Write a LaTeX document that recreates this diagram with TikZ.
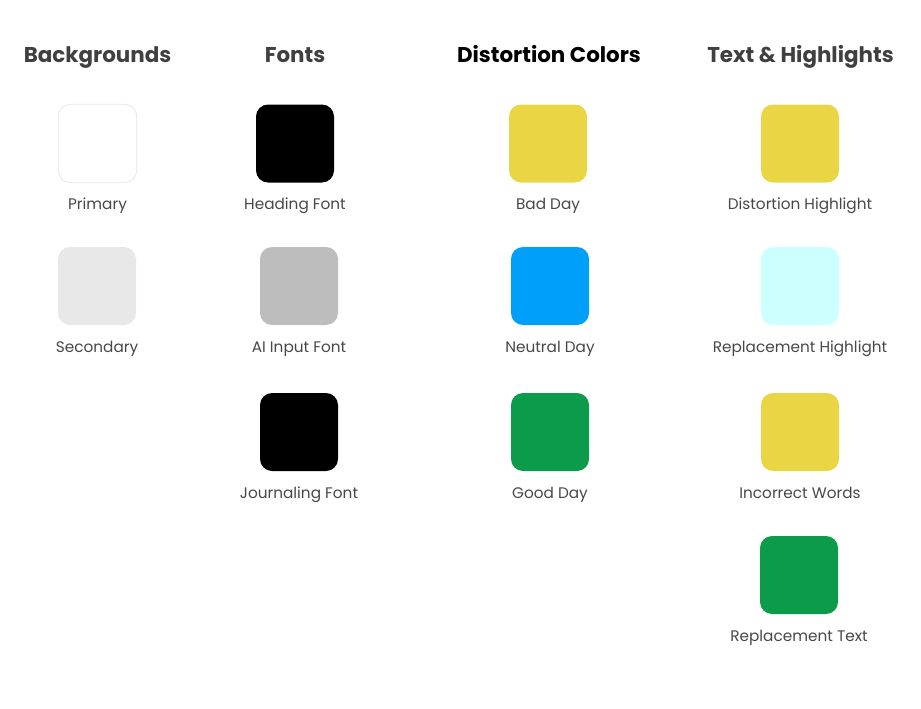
\documentclass[tikz,border=0pt]{standalone}
\usepackage{fontspec}
\setmainfont{Poppins}
\usepackage{xcolor}
\usepackage{tikz}
\usetikzlibrary{positioning}

\definecolor{headgray}{HTML}{404040}
\definecolor{labelgray}{HTML}{474747}
\definecolor{rimgray}{HTML}{E6E6E6}
\definecolor{paper}{HTML}{FFFFFF}
\definecolor{paletint}{HTML}{E8E8E8}
\definecolor{inkblack}{HTML}{000000}
\definecolor{aigray}{HTML}{BDBDBD}
\definecolor{badyellow}{HTML}{EAD544}
\definecolor{neutralblue}{HTML}{00A0FA}
\definecolor{goodgreen}{HTML}{0B9B4A}
\definecolor{paleaqua}{HTML}{CCFFFF}

\begin{document}
\begin{tikzpicture}[x=1pt,y=-1pt,
    heading/.style={font=\bfseries\fontsize{21.4}{25}\selectfont,text=headgray,inner sep=0pt,anchor=base},
    swatch/.style={rounded corners=12pt,minimum size=78pt,inner sep=0pt},
    caption/.style={font=\fontsize{15.3}{18}\selectfont,text=labelgray,inner sep=0pt,anchor=base}]
  \useasboundingbox (0,0) rectangle (921,709);
  % column titles
  \node[heading] (bghead) at (97.5,63) {Backgrounds};
  \node[heading] (fonthead) at (295,63) {Fonts};
  \node[heading,text=inkblack] (disthead) at (549,63) {Distortion Colors};
  \node[heading] (texthead) at (800.5,63) {Text \& Highlights};
  % swatches with their captions
  \foreach \n/\x/\y/\c/\t in {
      primary/97.5/143.5/paper/Primary,
      secondary/97/286/paletint/Secondary,
      heading/295/143.5/inkblack/Heading Font,
      aiinput/299/286/aigray/AI Input Font,
      journal/299/432/inkblack/Journaling Font,
      bad/548/143.5/badyellow/Bad Day,
      neutral/550/286/neutralblue/Neutral Day,
      good/550/432/goodgreen/Good Day,
      disthl/800/143.5/badyellow/Distortion Highlight,
      replhl/800/286/paleaqua/Replacement Highlight,
      wrong/800/432/badyellow/Incorrect Words,
      repltext/799/575/goodgreen/Replacement Text}
  {
    \node[swatch,fill=\c] (sw-\n) at (\x,\y) {};
    \node[caption] (lb-\n) at ([yshift=-27pt]sw-\n.south) {\t};
  }
  \draw[rimgray,line width=0.8pt,rounded corners=12pt] (sw-primary.south west) rectangle (sw-primary.north east);
\end{tikzpicture}
\end{document}
